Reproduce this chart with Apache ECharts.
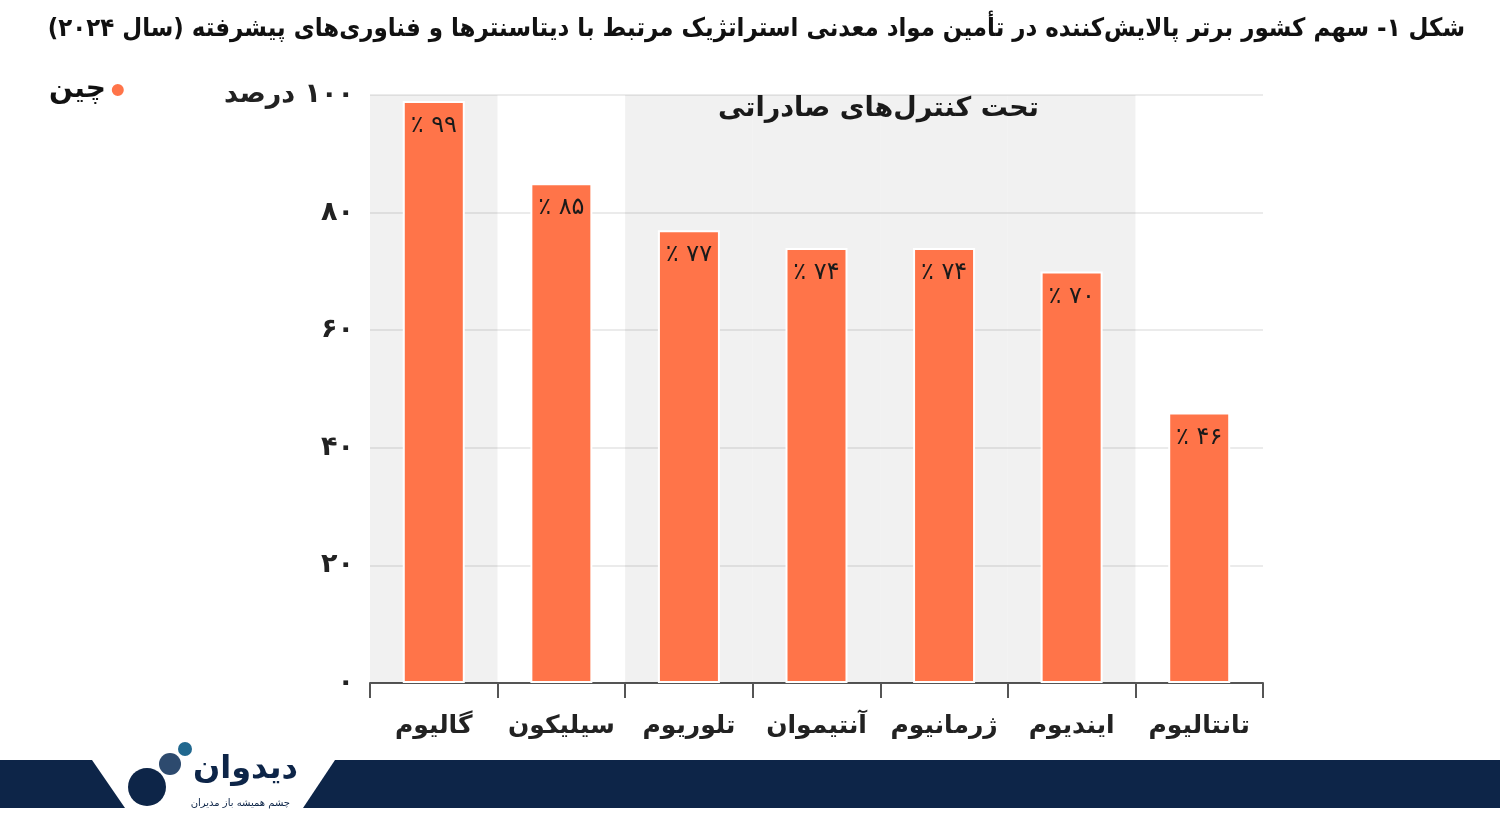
<!DOCTYPE html>
<html>
<head>
<meta charset="utf-8">
<script src="https://cdn.jsdelivr.net/npm/echarts@6/dist/echarts.min.js"></script>
<style>
  html, body { margin: 0; padding: 0; background: #fff; }
  #main { width: 1500px; height: 830px; }
</style>
</head>
<body>
<div id="main" dir="rtl"></div>
<script>
var chartDom = document.getElementById('main');
var myChart = echarts.init(chartDom, null);

// data
var minerals = ['گالیوم', 'سیلیکون', 'تلوریوم', 'آنتیموان', 'ژرمانیوم', 'ایندیوم', 'تانتالیوم'];
var chinaShare = [99, 85, 77, 74, 74, 70, 46];
// grey background band (minerals under export control)
var exportControlBand = [100, null, 100, 100, 100, 100, null];
var yTicks = [0, 20, 40, 60, 80, 100];

var fontFa = 'DejaVu Sans';

function faDigits(n) {
    return String(n).replace(/[0-9]/g, function (d) { return '۰۱۲۳۴۵۶۷۸۹'[d]; });
}

var option = {
    textStyle: { fontFamily: fontFa },
    animation: false,
    title: {
        text: 'شکل ۱- سهم کشور برتر پالایش‌کننده در تأمین مواد معدنی استراتژیک مرتبط با دیتاسنترها و فناوری‌های پیشرفته (سال ۲۰۲۴)',
        right: 30,
        top: 11,
        textStyle: { fontFamily: 'DejaVu Sans Condensed', fontSize: 25.5, fontWeight: 'bold', color: '#111' }
    },
    legend: {
        data: ['چین'],
        left: 44,
        top: 71,
        icon: 'circle',
        itemWidth: 14,
        itemHeight: 14,
        align: 'right',
        textStyle: { fontFamily: fontFa, fontSize: 28, fontWeight: 'bold', color: '#111' }
    },
    grid: { left: 370, right: 237, top: 95, bottom: 147 },
    xAxis: [
        {
            type: 'category',
            data: minerals,
            axisLine: { lineStyle: { color: '#555', width: 2 } },
            axisTick: { show: true, interval: 0, length: 15, lineStyle: { color: '#555', width: 2 } },
            axisLabel: { interval: 0, fontFamily: fontFa, fontSize: 25, fontWeight: 'bold', color: '#222', margin: 31 }
        },
        {
            type: 'category',
            data: minerals,
            show: false
        }
    ],
    yAxis: {
        type: 'value',
        min: 0,
        max: 100,
        interval: 20,
        axisLine: { show: false },
        axisTick: { show: false },
        splitLine: { lineStyle: { color: '#e4e4e4', width: 1.5 } },
        axisLabel: {
            fontFamily: fontFa,
            fontSize: 27,
            fontWeight: 'bold',
            color: '#222',
            margin: 16,
            formatter: function (v) {
                if (yTicks.indexOf(v) < 0) return '';
                return v === 100 ? faDigits(v) + ' درصد' : faDigits(v);
            }
        }
    },
    series: [
        {
            type: 'bar',
            xAxisIndex: 1,
            data: exportControlBand,
            barWidth: '100%',
            silent: true,
            z: 1,
            itemStyle: { color: 'rgba(0,0,0,0.055)' }
        },
        {
            name: 'چین',
            type: 'bar',
            xAxisIndex: 0,
            data: chinaShare,
            barWidth: 62,
            z: 3,
            itemStyle: { color: '#ff7449', borderColor: '#fff', borderWidth: 2 },
            label: {
                show: true,
                position: 'insideTop',
                distance: 13,
                fontFamily: fontFa,
                fontSize: 24,
                color: '#1a1a1a',
                formatter: function (p) { return faDigits(p.value) + ' ٪'; }
            }
        }
    ],
    graphic: [
        {
            type: 'text',
            left: 878 - 160,
            top: 95,
            style: {
                text: 'تحت کنترل‌های صادراتی',
                font: 'bold 27px "DejaVu Sans"',
                fill: '#1a1a1a',
                width: 320,
                align: 'center'
            },
            z: 10
        },
        // footer band
        {
            type: 'polygon',
            shape: { points: [[0, 760], [92, 760], [125, 808], [0, 808]] },
            style: { fill: '#0d2548' }
        },
        {
            type: 'polygon',
            shape: { points: [[335, 760], [1500, 760], [1500, 808], [303, 808]] },
            style: { fill: '#0d2548' }
        },
        { type: 'circle', shape: { cx: 147, cy: 787, r: 19 }, style: { fill: '#0d2548' } },
        { type: 'circle', shape: { cx: 170, cy: 764, r: 11 }, style: { fill: '#2d4a6e' } },
        { type: 'circle', shape: { cx: 185, cy: 749, r: 7 }, style: { fill: '#21688f' } },
        {
            type: 'text',
            x: 298,
            y: 786,
            style: {
                text: 'دیدوان',
                font: 'bold 32px "DejaVu Sans"',
                fill: '#0d2548',
                align: 'right',
                verticalAlign: 'bottom'
            }
        },
        {
            type: 'text',
            x: 290,
            y: 803,
            style: {
                text: 'چشم همیشه باز مدیران',
                font: '10px "DejaVu Sans"',
                fill: '#0d2548',
                align: 'right',
                verticalAlign: 'middle'
            }
        }
    ]
};

myChart.setOption(option);
</script>
</body>
</html>
